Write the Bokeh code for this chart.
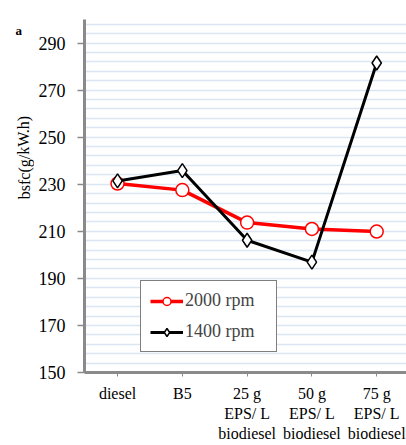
from bokeh.plotting import figure
from bokeh.layouts import row
from bokeh.models import (Range1d, FixedTicker, Legend, LegendItem, LinearAxis,
                          CustomJSTickFormatter)
from bokeh.core.properties import value
from bokeh.embed import file_html
from bokeh.resources import INLINE

categories = ["diesel", "B5", "25 g\nEPS/ L\nbiodiesel", "50 g\nEPS/ L\nbiodiesel", "75 g\nEPS/ L\nbiodiesel"]
bsfc_2000 = [230.3, 227.5, 213.7, 211.0, 209.9]
bsfc_1400 = [231.4, 235.8, 206.2, 196.9, 281.5]
y_ticks = [150, 170, 190, 210, 230, 250, 270, 290]
y_title = "bsfc(g/kW.h)"
panel_tag = "a"

xs = list(range(len(categories)))
SERIF = "Liberation Serif"
W, H = 406, 445
SIDE_W = 34
FRAME_LEFT = 84
FRAME_BOTTOM = 372

# ---- narrow side panel holding the y title and the panel letter ----
side = figure(width=SIDE_W, height=H, output_backend="svg", toolbar_location=None,
              x_range=Range1d(0, SIDE_W), y_range=Range1d(0, H),
              min_border=0, outline_line_color=None)
side.title.visible = False
side.axis.visible = False
side.grid.visible = False
side.text(x=[32], y=[H - 174], text=[y_title], angle=1.5708, text_align="center",
          text_baseline="bottom", text_font=value(SERIF), text_font_size="16px",
          text_color="black")
side.text(x=[15], y=[H - 14], text=[panel_tag], text_align="left",
          text_baseline="alphabetic", text_font=value(SERIF), text_font_style="bold",
          text_font_size="13px", text_color="black")

# ---- main chart ----
p = figure(width=W - SIDE_W, height=H, output_backend="svg", toolbar_location=None,
           x_range=Range1d(-0.51, 4.46), y_range=Range1d(150, 300),
           min_border_left=FRAME_LEFT - SIDE_W, min_border_right=0, min_border_top=19,
           min_border_bottom=H - FRAME_BOTTOM)
p.title.visible = False
p.outline_line_color = None
p.background_fill_color = "white"
p.border_fill_color = "white"

p.xgrid.visible = False
p.ygrid.ticker = FixedTicker(ticks=list(range(150, 301, 4)))
p.ygrid.grid_line_color = "#dce6f2"
p.ygrid.grid_line_width = 1.5

p.yaxis.ticker = FixedTicker(ticks=y_ticks)
p.yaxis.axis_line_color = "#8a8a8a"
p.yaxis.axis_line_width = 3
p.yaxis.major_tick_line_color = "#8a8a8a"
p.yaxis.major_tick_line_width = 1.5
p.yaxis.major_tick_out = 7
p.yaxis.major_tick_in = 0
p.yaxis.minor_tick_line_color = None
p.yaxis.major_label_text_font = SERIF
p.yaxis.major_label_text_font_size = "18px"
p.yaxis.major_label_text_color = "black"
p.yaxis.major_label_standoff = 12

# x axis: category names split into lines, one stacked axis per line
lines = [c.split("\n") for c in categories]
n_lines = max(len(l) for l in lines)
line_rows = [[l[k] if k < len(l) else "" for l in lines] for k in range(n_lines)]

def row_formatter(labels):
    return CustomJSTickFormatter(args=dict(labels=labels),
                                 code="const i = Math.round(tick); return labels[i] ?? '';")

p.xaxis.ticker = FixedTicker(ticks=xs)
p.xaxis.formatter = row_formatter(line_rows[0])
p.xaxis.axis_line_color = "#8a8a8a"
p.xaxis.axis_line_width = 3
p.xaxis.major_tick_line_color = "#8a8a8a"
p.xaxis.major_tick_out = 4
p.xaxis.major_tick_in = 0
p.xaxis.minor_tick_line_color = None
p.xaxis.major_label_text_font = SERIF
p.xaxis.major_label_text_font_size = "16px"
p.xaxis.major_label_text_color = "black"
p.xaxis.major_label_standoff = 8

for k in range(1, n_lines):
    ax = LinearAxis(ticker=FixedTicker(ticks=xs), formatter=row_formatter(line_rows[k]),
                    axis_line_color=None, major_tick_out=0, major_tick_in=0,
                    major_tick_line_color=None, minor_tick_line_color=None,
                    major_label_standoff=0, major_label_text_font=SERIF,
                    major_label_text_font_size="16px", major_label_text_color="black")
    p.add_layout(ax, "below")

r1l = p.line(xs, bsfc_2000, line_color="#ff0000", line_width=3.5)
r1m = p.scatter(xs, bsfc_2000, marker="circle", size=13, fill_color="white",
                line_color="#ff0000", line_width=1.5)
r2l = p.line(xs, bsfc_1400, line_color="black", line_width=3)
r2m = p.scatter(xs, bsfc_1400, marker="diamond", size=14, fill_color="white",
                line_color="black", line_width=1.5)

legend = Legend(items=[LegendItem(label="2000 rpm", renderers=[r1l, r1m]),
                       LegendItem(label="1400 rpm", renderers=[r2l, r2m])],
                location=(56, 20), orientation="vertical",
                border_line_color="black", border_line_width=1.2,
                label_text_font=SERIF, label_text_font_size="18px",
                glyph_width=33, glyph_height=20, label_height=20, label_width=82,
                padding=9, spacing=10, margin=0, label_standoff=2,
                background_fill_alpha=1.0)
p.add_layout(legend, "center")

layout = row(side, p, spacing=0)
open("out.html", "w").write(file_html(layout, INLINE))
